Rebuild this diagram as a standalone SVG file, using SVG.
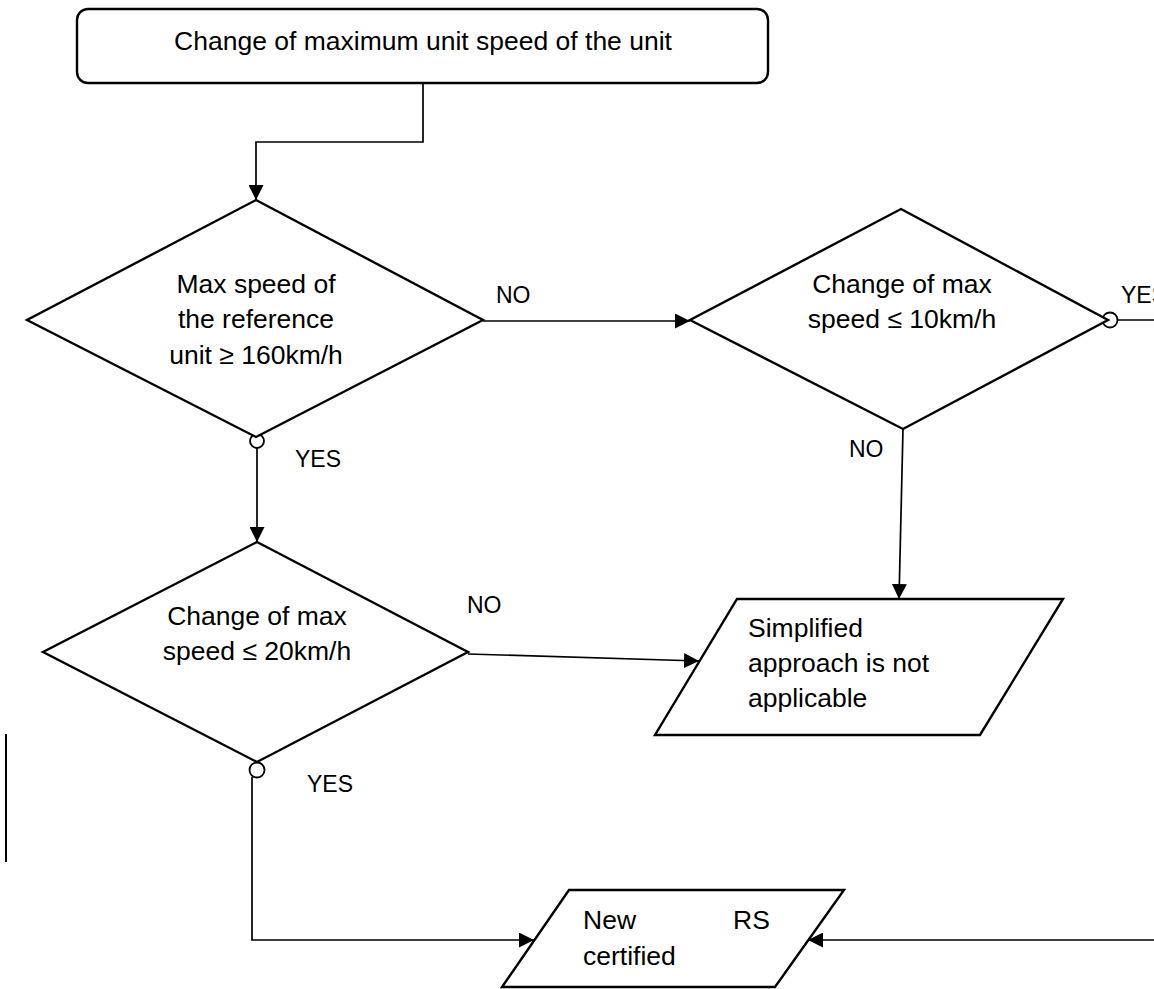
<svg xmlns="http://www.w3.org/2000/svg" width="1154" height="989" viewBox="0 0 1154 989">
  <style>
    .shape { fill: #ffffff; stroke: #000000; stroke-width: 2.4; stroke-linejoin: miter; }
    .wire { fill: none; stroke: #000000; stroke-width: 1.7; }
    .tip { fill: #000000; }
    .ring { fill: #ffffff; stroke: #000000; stroke-width: 1.8; }
    .txt { font-family: "Liberation Sans", Arial, sans-serif; font-size: 26.5px; fill: #000000; }
    .mid { text-anchor: middle; }
    .lbl { font-family: "Liberation Sans", Arial, sans-serif; font-size: 23px; fill: #000000; }
  </style>
  <defs>
    <marker id="arrow" viewBox="0 0 10 10" refX="10" refY="5" markerWidth="15" markerHeight="15" markerUnits="userSpaceOnUse" orient="auto">
      <path class="tip" d="M0,0 L10,5 L0,10 Z"/>
    </marker>
  </defs>

  <rect width="1154" height="989" fill="#ffffff"/>

  <!-- connectors -->
  <g id="connectors">
    <path class="wire" d="M423,83 V142 H256 V200" marker-end="url(#arrow)"/>
    <path class="wire" d="M483,321 H690" marker-end="url(#arrow)"/>
    <path class="wire" d="M257,448 V542" marker-end="url(#arrow)"/>
    <path class="wire" d="M903,429 L899,599" marker-end="url(#arrow)"/>
    <path class="wire" d="M468,654 L699,661" marker-end="url(#arrow)"/>
    <path class="wire" d="M1117,320 H1154"/>
    <path class="wire" d="M252,777 V940 H534" marker-end="url(#arrow)"/>
    <path class="wire" d="M1154,940 H808" marker-end="url(#arrow)"/>
    <circle class="ring" cx="257" cy="441" r="7"/>
    <circle class="ring" cx="1110" cy="320" r="7.5"/>
    <circle class="ring" cx="257" cy="770" r="7.5"/>
    <!-- branch labels -->
    <text class="lbl" x="496" y="303">NO</text>
    <text class="lbl" x="295" y="467">YES</text>
    <text class="lbl" x="1121" y="303">YES</text>
    <text class="lbl" x="849" y="457">NO</text>
    <text class="lbl" x="467" y="613">NO</text>
    <text class="lbl" x="307" y="792">YES</text>
  </g>

  <!-- loose vertical rule at the left margin -->
  <line x1="6" y1="734" x2="6" y2="862" stroke="#000000" stroke-width="2"/>

  <g id="start">
    <rect class="shape" x="77" y="9" width="691" height="74" rx="11" ry="11"/>
    <text class="txt mid" x="423" y="50">Change of maximum unit speed of the unit</text>
  </g>

  <g id="decision-reference-speed">
    <polygon class="shape" points="256,200 483,320 256,437 27,320"/>
    <text class="txt mid" x="256" y="293">Max speed of</text>
    <text class="txt mid" x="256" y="328">the reference</text>
    <text class="txt mid" x="256" y="364">unit ≥ 160km/h</text>
  </g>

  <g id="decision-10kmh">
    <polygon class="shape" points="901,209 1108,320 903,429 690,320"/>
    <text class="txt mid" x="902" y="293">Change of max</text>
    <text class="txt mid" x="902" y="328">speed ≤ 10km/h</text>
  </g>

  <g id="decision-20kmh">
    <polygon class="shape" points="257,542 468,652 257,762 43,652"/>
    <text class="txt mid" x="257" y="625">Change of max</text>
    <text class="txt mid" x="257" y="660">speed ≤ 20km/h</text>
  </g>

  <g id="not-applicable">
    <polygon class="shape" points="737,599 1063,599 980,735 655,735"/>
    <text class="txt" x="748" y="637">Simplified</text>
    <text class="txt" x="748" y="672">approach is not</text>
    <text class="txt" x="748" y="707">applicable</text>
  </g>

  <g id="new-rs-certified">
    <polygon class="shape" points="569,890 844,890 775,987 502,987"/>
    <text class="txt" y="929"><tspan x="583">New</tspan><tspan x="733">RS</tspan></text>
    <text class="txt" x="583" y="965">certified</text>
  </g>
</svg>
